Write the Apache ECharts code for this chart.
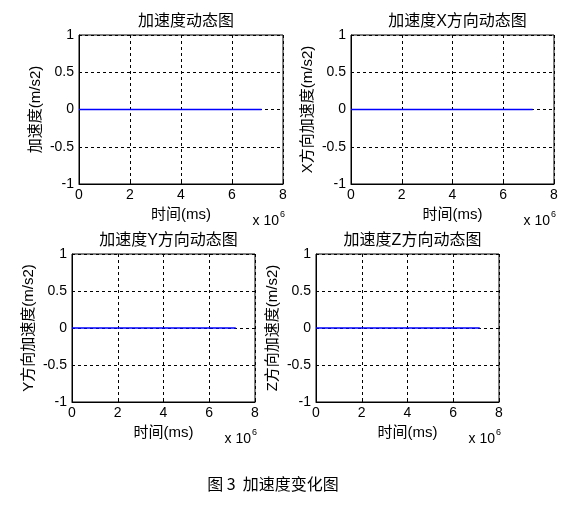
<!DOCTYPE html>
<html>
<head>
<meta charset="utf-8">
<script src="https://cdn.jsdelivr.net/npm/echarts@6/dist/echarts.min.js"></script>
<style>
  html, body { margin: 0; padding: 0; background: #fff; }
  #root { width: 581px; height: 508px; }
</style>
</head>
<body>
<div id="root"></div>
<script>
// data
var panelTitles = ['加速度动态图', '加速度X方向动态图', '加速度Y方向动态图', '加速度Z方向动态图']
var yNames = ['加速度(m/s2)', 'X方向加速度(m/s2)', 'Y方向加速度(m/s2)', 'Z方向加速度(m/s2)']
var xName = '时间(ms)'
var timeMs = [0, 7160000]
var accAll = [0, 0]
var accX = [0, 0]
var accY = [0, 0]
var accZ = [0, 0]
var caption = '图 3  加速度变化图'

var seriesValues = [accAll, accX, accY, accZ]

// layout of the four boxes
var boxes = [
  { left: 79, top: 35, width: 204, height: 149 },
  { left: 351, top: 35, width: 203, height: 149 },
  { left: 72, top: 254, width: 183, height: 148 },
  { left: 316, top: 254, width: 183, height: 148 }
]

var txtFont = '"Liberation Sans", Arial, "Noto Sans CJK SC", sans-serif'

var chart = echarts.init(document.getElementById('root'), null, { renderer: 'canvas' })

var grids = [], xAxes = [], yAxes = [], series = [], titles = [], graphics = []

boxes.forEach(function (b, i) {
  grids.push({
    left: b.left, top: b.top, width: b.width, height: b.height,
    show: true, borderColor: '#000', borderWidth: 1, containLabel: false
  })
  xAxes.push({
    type: 'value', gridIndex: i, min: 0, max: 8000000, interval: 2000000,
    name: xName, nameLocation: 'middle', nameGap: 23,
    nameTextStyle: { color: '#000', fontSize: 15, fontFamily: txtFont },
    axisLine: { show: true, onZero: false, lineStyle: { color: '#000', width: 1 } },
    axisTick: { show: true, inside: true, length: 3, lineStyle: { color: '#000' } },
    axisLabel: {
      color: '#000', fontSize: 14, fontFamily: txtFont, margin: 4,
      formatter: function (v) { return String(v / 1000000) }
    },
    splitLine: { show: true, lineStyle: { color: '#000', type: [3, 3], width: 1 } }
  })
  yAxes.push({
    type: 'value', gridIndex: i, min: -1, max: 1, interval: 0.5,
    name: yNames[i], nameLocation: 'middle', nameGap: 36, nameRotate: 90,
    nameTextStyle: { color: '#000', fontSize: 15, fontFamily: txtFont },
    axisLine: { show: true, onZero: false, lineStyle: { color: '#000', width: 1 } },
    axisTick: { show: true, inside: true, length: 3, lineStyle: { color: '#000' } },
    axisLabel: { color: '#000', fontSize: 14, fontFamily: txtFont, margin: 5 },
    splitLine: { show: true, lineStyle: { color: '#000', type: [3, 3], width: 1 } }
  })
  series.push({
    type: 'line', xAxisIndex: i, yAxisIndex: i,
    data: timeMs.map(function (t, k) { return [t, seriesValues[i][k]] }),
    showSymbol: false, symbol: 'none', silent: true, animation: false,
    lineStyle: { color: '#0000ff', width: 1.5 }, z: 5
  })
  titles.push({
    text: panelTitles[i],
    left: b.left + b.width / 2, top: b.top - 26, textAlign: 'center',
    textStyle: { color: '#000', fontSize: 16, fontWeight: 'normal', fontFamily: txtFont }
  })
  var R = b.left + b.width, B = b.top + b.height
  graphics.push({
    type: 'text', x: R - 4, y: B + 37,
    style: { text: 'x 10', fill: '#000', font: '14px ' + txtFont, textAlign: 'right', textVerticalAlign: 'middle' }
  })
  graphics.push({
    type: 'text', x: R - 3, y: B + 31,
    style: { text: '6', fill: '#000', font: '9px ' + txtFont, textAlign: 'left', textVerticalAlign: 'middle' }
  })
})

titles.push({
  text: caption, left: 268, top: 471, textAlign: 'center',
  textStyle: { color: '#000', fontSize: 16, fontWeight: 'normal', fontFamily: '"Noto Sans CJK SC", sans-serif' }
})

chart.setOption({
  backgroundColor: '#fff',
  animation: false,
  title: titles,
  grid: grids,
  xAxis: xAxes,
  yAxis: yAxes,
  series: series,
  graphic: graphics
})
</script>
</body>
</html>
